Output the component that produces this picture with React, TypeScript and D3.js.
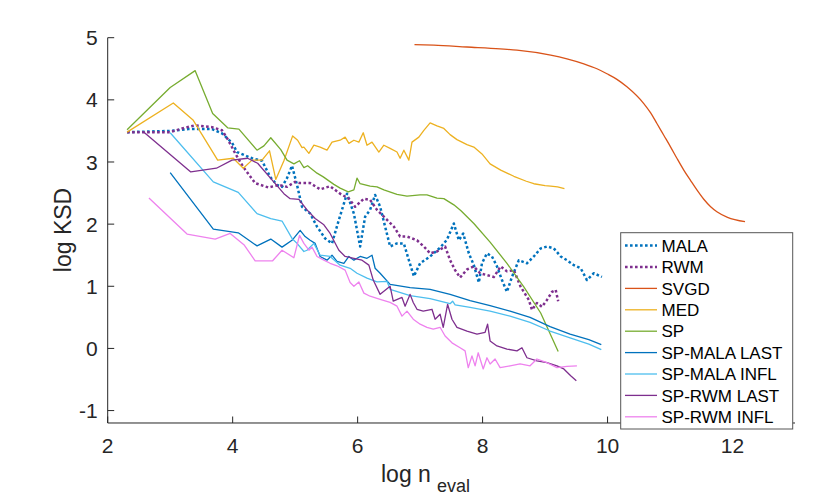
import { useMemo } from "react";
import * as d3 from "d3";

const WIDTH = 830;
const HEIGHT = 498;
const MARGIN = { top: 37.7, right: 35, bottom: 75, left: 107.7 };

const X_TICKS = [2, 4, 6, 8, 10, 12];
const Y_TICKS = [-1, 0, 1, 2, 3, 4, 5];

// [log n_eval, log KSD]
const MALA: [number, number][] = [
  [2.31, 3.48], [3.0, 3.5], [3.29, 3.53], [3.67, 3.53], [3.83, 3.46], [3.99, 3.31], [4.07, 3.16],
  [4.31, 3.06], [4.47, 3.02], [4.6, 2.76], [4.71, 2.63], [4.79, 2.6], [4.87, 2.74], [4.95, 2.94],
  [5.03, 2.63], [5.11, 2.28], [5.24, 2.17], [5.35, 1.96], [5.48, 1.77], [5.59, 1.69], [5.7, 2.07],
  [5.83, 2.49], [5.94, 2.17], [6.04, 1.64], [6.12, 2.12], [6.2, 2.23], [6.28, 2.47], [6.36, 2.28],
  [6.44, 1.96], [6.52, 1.64], [6.63, 1.69], [6.74, 1.69], [6.82, 1.42], [6.9, 1.16], [7.0, 1.37],
  [7.16, 1.48], [7.32, 1.62], [7.43, 1.75], [7.54, 2.01], [7.62, 1.74], [7.69, 1.85], [7.78, 1.53],
  [7.86, 1.34], [7.94, 1.06], [7.99, 1.37], [8.07, 1.53], [8.15, 1.48], [8.23, 1.32], [8.31, 1.1],
  [8.39, 0.91], [8.47, 1.15], [8.58, 1.42], [8.71, 1.37], [8.82, 1.48], [8.93, 1.61], [9.03, 1.64],
  [9.14, 1.61], [9.25, 1.48], [9.35, 1.42], [9.46, 1.34], [9.57, 1.29], [9.67, 1.1], [9.78, 1.21],
  [9.91, 1.15],
];

const RWM: [number, number][] = [
  [2.31, 3.48], [3.0, 3.48], [3.19, 3.54], [3.4, 3.59], [3.67, 3.56], [3.83, 3.51], [3.93, 3.35],
  [4.04, 3.14], [4.17, 2.92], [4.36, 2.66], [4.57, 2.59], [4.74, 2.63], [4.87, 2.6], [5.0, 2.68],
  [5.08, 2.66], [5.24, 2.66], [5.4, 2.56], [5.56, 2.61], [5.72, 2.49], [5.86, 2.41], [5.96, 2.28],
  [6.1, 2.41], [6.2, 2.39], [6.31, 2.23], [6.47, 2.07], [6.58, 1.96], [6.68, 1.8], [6.79, 1.8],
  [6.95, 1.74], [7.06, 1.64], [7.16, 1.53], [7.27, 1.56], [7.4, 1.64], [7.48, 1.42], [7.56, 1.26],
  [7.64, 1.14], [7.75, 1.27], [7.86, 1.32], [7.96, 1.21], [8.07, 1.18], [8.18, 1.15], [8.29, 1.32],
  [8.39, 1.24], [8.5, 1.26], [8.61, 0.99], [8.74, 0.78], [8.79, 0.62], [8.87, 0.73], [8.95, 0.67],
  [9.03, 0.78], [9.11, 0.91], [9.17, 0.94], [9.21, 0.76],
];

const SVGD: [number, number][] = [
  [6.91, 4.89], [7.22, 4.88], [7.75, 4.85], [8.28, 4.82], [8.55, 4.8], [9.09, 4.72], [9.35, 4.66],
  [9.62, 4.58], [9.83, 4.5], [9.99, 4.42], [10.15, 4.33], [10.31, 4.21], [10.58, 3.94], [10.69, 3.79],
  [10.79, 3.62], [10.9, 3.43], [11.01, 3.24], [11.11, 3.06], [11.22, 2.87], [11.33, 2.7], [11.43, 2.55],
  [11.54, 2.4], [11.65, 2.28], [11.75, 2.2], [11.92, 2.11], [12.2, 2.04],
];

const MED: [number, number][] = [
  [2.31, 3.48], [3.05, 3.95], [3.37, 3.67], [3.76, 3.03], [4.01, 3.06], [4.17, 2.9], [4.31, 3.03],
  [4.47, 3.03], [4.59, 3.18], [4.69, 2.72], [4.82, 3.02], [4.96, 3.42], [5.04, 3.35], [5.11, 3.23],
  [5.14, 3.24], [5.22, 3.14], [5.3, 3.27], [5.4, 3.24], [5.51, 3.19], [5.59, 3.32], [5.72, 3.35],
  [5.8, 3.4], [5.86, 3.3], [5.94, 3.35], [6.02, 3.32], [6.09, 3.47], [6.15, 3.27], [6.23, 3.32],
  [6.34, 3.16], [6.42, 3.27], [6.52, 3.22], [6.63, 3.16], [6.68, 3.06], [6.74, 3.19], [6.82, 3.03],
  [6.87, 3.32], [6.98, 3.4], [7.06, 3.51], [7.16, 3.63], [7.27, 3.58], [7.38, 3.54], [7.48, 3.44],
  [7.59, 3.36], [7.75, 3.28], [7.86, 3.24], [7.99, 3.13], [8.12, 2.97], [8.29, 2.87], [8.5, 2.77],
  [8.7, 2.69], [8.82, 2.65], [9.0, 2.62], [9.09, 2.61], [9.2, 2.6], [9.31, 2.57],
];

const SP: [number, number][] = [
  [2.31, 3.52], [3.0, 4.2], [3.4, 4.47], [3.68, 3.78], [3.92, 3.55], [4.1, 3.53], [4.39, 3.19],
  [4.5, 3.26], [4.61, 3.39], [4.77, 3.2], [4.87, 3.03], [4.98, 2.97], [5.07, 3.02], [5.14, 2.91],
  [5.2, 2.94], [5.35, 2.82], [5.45, 2.76], [5.62, 2.64], [5.72, 2.58], [5.85, 2.52], [5.94, 2.55],
  [5.99, 2.74], [6.04, 2.65], [6.2, 2.61], [6.31, 2.6], [6.42, 2.55], [6.63, 2.48], [6.79, 2.45],
  [7.0, 2.47], [7.11, 2.47], [7.27, 2.42], [7.38, 2.41], [7.54, 2.31], [7.65, 2.22], [7.86, 2.01],
  [8.12, 1.71], [8.39, 1.37], [8.66, 0.99], [8.93, 0.57], [9.21, -0.05],
];

const SP_MALA_LAST: [number, number][] = [
  [3.0, 2.83], [3.69, 1.92], [4.09, 1.86], [4.39, 1.65], [4.61, 1.76], [4.79, 1.63], [4.95, 1.74],
  [5.08, 1.9], [5.16, 1.8], [5.24, 1.74], [5.32, 1.69], [5.4, 1.48], [5.51, 1.42], [5.59, 1.5],
  [5.67, 1.4], [5.78, 1.37], [5.86, 1.48], [5.94, 1.42], [6.04, 1.48], [6.15, 1.45], [6.23, 1.5],
  [6.28, 1.29], [6.36, 1.21], [6.52, 1.03], [6.84, 0.98], [7.16, 0.95], [7.48, 0.87], [7.8, 0.77],
  [8.12, 0.69], [8.44, 0.6], [8.76, 0.5], [9.08, 0.35], [9.4, 0.23], [9.7, 0.14], [9.9, 0.06],
];

const SP_MALA_INFL: [number, number][] = [
  [3.0, 3.47], [3.69, 2.68], [4.09, 2.51], [4.39, 2.17], [4.61, 2.09], [4.79, 2.05], [4.95, 1.77],
  [5.03, 1.69], [5.14, 1.56], [5.19, 1.58], [5.3, 1.69], [5.4, 1.5], [5.56, 1.48], [5.72, 1.34],
  [5.88, 1.29], [5.99, 1.21], [6.15, 1.13], [6.31, 1.07], [6.47, 1.08], [6.52, 0.95], [6.84, 0.85],
  [7.16, 0.8], [7.48, 0.72], [7.52, 0.76], [7.56, 0.7], [7.8, 0.66], [8.12, 0.6], [8.44, 0.52],
  [8.76, 0.42], [9.08, 0.28], [9.4, 0.17], [9.7, 0.07], [9.9, -0.02],
];

const SP_RWM_LAST: [number, number][] = [
  [2.58, 3.48], [3.33, 2.84], [3.74, 2.9], [3.99, 3.03], [4.24, 3.06], [4.4, 2.98], [4.64, 2.7],
  [4.82, 2.49], [4.92, 2.41], [5.06, 2.4], [5.19, 2.23], [5.32, 2.09], [5.46, 1.99], [5.56, 1.85],
  [5.7, 1.58], [5.8, 1.48], [5.94, 1.45], [6.07, 1.42], [6.18, 1.34], [6.25, 1.1], [6.36, 0.87],
  [6.52, 1.0], [6.57, 0.76], [6.71, 0.82], [6.76, 0.68], [6.84, 0.87], [6.89, 0.74], [6.95, 0.63],
  [7.05, 0.6], [7.19, 0.63], [7.24, 0.47], [7.32, 0.55], [7.37, 0.34], [7.44, 0.71], [7.51, 0.47],
  [7.59, 0.34], [7.75, 0.28], [7.91, 0.23], [8.04, 0.26], [8.08, 0.39], [8.12, 0.12], [8.23, 0.04],
  [8.39, -0.01], [8.55, -0.04], [8.63, 0.01], [8.71, -0.15], [8.87, -0.2], [9.03, -0.23],
  [9.19, -0.28], [9.3, -0.33], [9.41, -0.44], [9.5, -0.52],
];

const SP_RWM_INFL: [number, number][] = [
  [2.66, 2.42], [3.27, 1.84], [3.72, 1.76], [3.96, 1.85], [4.18, 1.67], [4.36, 1.41], [4.64, 1.41],
  [4.79, 1.58], [4.98, 1.46], [5.07, 1.82], [5.14, 1.69], [5.22, 1.58], [5.27, 1.63], [5.35, 1.48],
  [5.46, 1.42], [5.56, 1.37], [5.67, 1.33], [5.8, 1.26], [5.88, 1.06], [5.94, 1.0], [6.02, 1.07],
  [6.1, 0.89], [6.2, 0.84], [6.36, 0.79], [6.52, 0.74], [6.63, 0.68], [6.71, 0.52], [6.79, 0.6],
  [6.89, 0.47], [7.0, 0.39], [7.11, 0.34], [7.21, 0.31], [7.32, 0.34], [7.4, 0.2], [7.51, 0.09],
  [7.64, 0.01], [7.72, -0.04], [7.77, -0.31], [7.83, -0.12], [7.88, -0.28], [7.93, -0.07],
  [8.01, -0.33], [8.07, -0.15], [8.12, -0.25], [8.2, -0.17], [8.28, -0.31], [8.44, -0.28],
  [8.6, -0.25], [8.76, -0.28], [8.87, -0.17], [9.03, -0.23], [9.19, -0.31], [9.35, -0.29],
  [9.51, -0.28],
];

type Series = { name: string; data: [number, number][]; color: string; dotted?: boolean; smooth?: boolean };

const SERIES: Series[] = [
  { name: "MALA", data: MALA, color: "#0072BD", dotted: true },
  { name: "RWM", data: RWM, color: "#7E2F8E", dotted: true },
  { name: "SVGD", data: SVGD, color: "#D95319", smooth: true },
  { name: "MED", data: MED, color: "#EDB120" },
  { name: "SP", data: SP, color: "#77AC30" },
  { name: "SP-MALA LAST", data: SP_MALA_LAST, color: "#0072BD" },
  { name: "SP-MALA INFL", data: SP_MALA_INFL, color: "#4DBEEE" },
  { name: "SP-RWM LAST", data: SP_RWM_LAST, color: "#7E2F8E" },
  { name: "SP-RWM INFL", data: SP_RWM_INFL, color: "#EE82EE" },
];

const AXIS_COLOR = "#262626";
const FONT = "'Liberation Sans', Arial, Helvetica, sans-serif";

export default function App() {
  const boundsWidth = WIDTH - MARGIN.left - MARGIN.right;
  const boundsHeight = HEIGHT - MARGIN.top - MARGIN.bottom;

  const xScale = useMemo(() => d3.scaleLinear().domain([2, 13]).range([0, boundsWidth]), [boundsWidth]);
  const yScale = useMemo(() => d3.scaleLinear().domain([-1.2, 5]).range([boundsHeight, 0]), [boundsHeight]);

  const lineGen = d3
    .line<[number, number]>()
    .x((d) => xScale(d[0]))
    .y((d) => yScale(d[1]));

  const allLines = SERIES.map((s) => (
    <path
      key={s.name}
      d={(s.smooth ? lineGen.curve(d3.curveMonotoneX) : lineGen.curve(d3.curveLinear))(s.data) ?? ""}
      fill="none"
      stroke={s.color}
      strokeWidth={s.dotted ? 2.5 : 1.3}
      strokeDasharray={s.dotted ? "2.6 2.4" : undefined}
      strokeLinejoin="round"
    />
  ));

  // legend box, upper-left corner and row height in px
  const LEG = { x: 620.7, y: 232.7, w: 172, h: 196.3, row: 21.4, first: 245.6 };

  return (
    <svg
      width={WIDTH}
      height={HEIGHT}
      style={{ position: "absolute", left: 0, top: 0, background: "#fff" }}
      fontFamily={FONT}
    >
      <rect width={WIDTH} height={HEIGHT} fill="#fff" />
      <g transform={`translate(${MARGIN.left},${MARGIN.top})`}>
        {allLines}

        {/* axes */}
        <line x1={0} x2={0} y1={0} y2={boundsHeight} stroke={AXIS_COLOR} strokeWidth={1} />
        <line x1={0} x2={boundsWidth} y1={boundsHeight} y2={boundsHeight} stroke={AXIS_COLOR} strokeWidth={1} />
        {Y_TICKS.map((t) => (
          <g key={t} transform={`translate(0,${yScale(t)})`}>
            <line x1={0} x2={6.5} stroke={AXIS_COLOR} strokeWidth={1} />
            <text x={-10} dy="0.36em" textAnchor="end" fontSize={21} fill={AXIS_COLOR}>
              {t}
            </text>
          </g>
        ))}
        {X_TICKS.map((t) => (
          <g key={t} transform={`translate(${xScale(t)},${boundsHeight})`}>
            <line y1={0} y2={-6.5} stroke={AXIS_COLOR} strokeWidth={1} />
            <text y={30.3} textAnchor="middle" fontSize={21} fill={AXIS_COLOR}>
              {t}
            </text>
          </g>
        ))}
      </g>

      {/* axis labels */}
      <text transform="translate(71,230) rotate(-90)" textAnchor="middle" fontSize={23} fill={AXIS_COLOR}>
        log KSD
      </text>
      <text x={381} y={482} fontSize={23} fill={AXIS_COLOR}>
        log n
        <tspan dx={6} dy={9.5} fontSize={18}>
          eval
        </tspan>
      </text>

      {/* legend */}
      <g>
        <rect x={LEG.x} y={LEG.y} width={LEG.w} height={LEG.h} fill="#fff" stroke="#555" strokeWidth={1} />
        {SERIES.map((s, i) => {
          const cy = LEG.first + i * LEG.row;
          return (
            <g key={s.name}>
              <line
                x1={625}
                x2={657}
                y1={cy}
                y2={cy}
                stroke={s.color}
                strokeWidth={s.dotted ? 2.5 : 1.3}
                strokeDasharray={s.dotted ? "2.6 2.4" : undefined}
              />
              <text x={661.5} y={cy} dy="0.36em" fontSize={17} fill="#000">
                {s.name}
              </text>
            </g>
          );
        })}
      </g>
    </svg>
  );
}
